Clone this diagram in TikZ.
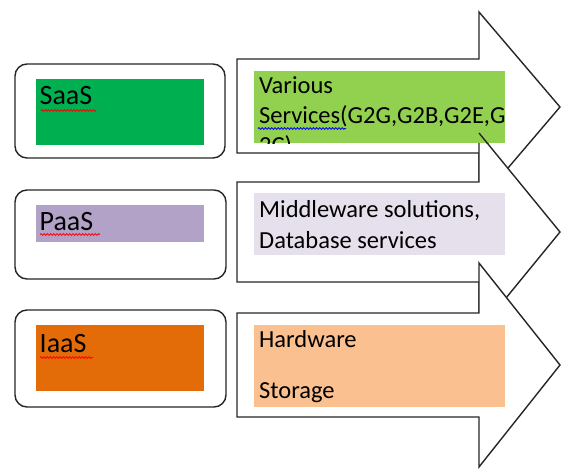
\documentclass[tikz,border=0pt]{standalone}
\usepackage{fontspec}
\setmainfont{Carlito}
\usetikzlibrary{decorations.pathmorphing}

\definecolor{saasfill}{HTML}{00B050}
\definecolor{paasfill}{HTML}{B2A2C7}
\definecolor{iaasfill}{HTML}{E36C09}
\definecolor{svcfill}{HTML}{92D050}
\definecolor{midfill}{HTML}{E5E0EC}
\definecolor{hwfill}{HTML}{FAC090}
\definecolor{edge}{HTML}{262626}

\begin{document}
\begin{tikzpicture}[x=1pt, y=-1pt,
  frame/.style={draw=edge, line width=1.4pt, rounded corners=12pt, fill=white, inner sep=0pt},
  swatch/.style={draw=none, inner sep=0pt, outer sep=0pt},
  bigarrow/.style={draw=edge, line width=1.4pt, fill=white, line join=miter},
  headline/.style={draw=edge, line width=1.4pt},
  label/.style={anchor=base west, inner sep=0pt, font=\fontsize{28}{32}\selectfont},
  body/.style={anchor=base west, inner sep=0pt, font=\fontsize{24.5}{30}\selectfont},
  spell/.style={draw=red, line width=0.8pt, decorate,
    decoration={snake, amplitude=0.9pt, segment length=3.2pt}},
  grammar/.style={spell, draw=blue}]
\useasboundingbox (0,0) rectangle (563,469);

% ---- left column: service model boxes ----
\node[frame, minimum width=210pt, minimum height=94pt] (saasframe) at (120,111) {};
\node[frame, minimum width=211pt, minimum height=89pt] (paasframe) at (120.5,234.5) {};
\node[frame, minimum width=211pt, minimum height=97pt] (iaasframe) at (120.5,358.5) {};

\node[swatch, fill=saasfill, minimum width=168pt, minimum height=66pt] (saasbox) at (120,112) {};
\node[swatch, fill=paasfill, minimum width=168pt, minimum height=37pt] (paasbox) at (120,223.5) {};
\node[swatch, fill=iaasfill, minimum width=168pt, minimum height=66pt] (iaasbox) at (120,358) {};

\node[label] (saas) at (39.5,104) {SaaS};
\node[label] (paas) at (39.5,230) {PaaS};
\node[label] (iaas) at (39.5,352) {IaaS};

\coordinate (saasulA) at (41,110.5);  \coordinate (saasulB) at (96,110.5);
\coordinate (paasulA) at (40,234.5);  \coordinate (paasulB) at (100,234.5);
\coordinate (iaasulA) at (40,357.5);  \coordinate (iaasulB) at (93,357.5);
\draw[spell] (saasulA) -- (saasulB);
\draw[spell] (paasulA) -- (paasulB);
\draw[spell] (iaasulA) -- (iaasulB);

% ---- right column: block arrows, later ones on top ----
\coordinate (a1top) at (479,12);  \coordinate (a1tip) at (560,107); \coordinate (a1bot) at (479,202);
\coordinate (a2top) at (479,133); \coordinate (a2tip) at (560,232); \coordinate (a2bot) at (479,331);
\coordinate (a3top) at (479,263); \coordinate (a3tip) at (560,365); \coordinate (a3bot) at (479,467);

\draw[bigarrow] (237,59) -- (479,59) -- (a1top) -- (a1tip) -- (a1bot) -- (479,153) -- (237,153) -- cycle;
\draw[bigarrow] (237,182) -- (479,182) -- (a2top) -- (a2tip) -- (a2bot) -- (479,282) -- (237,282) -- cycle;
\draw[bigarrow] (237,313) -- (479,313) -- (a3top) -- (a3tip) -- (a3bot) -- (479,417) -- (237,417) -- cycle;

% ---- text boxes inside the arrows ----
\node[swatch, fill=svcfill, minimum width=251pt, minimum height=72pt] (svcbox) at (379.5,107) {};
\node[swatch, fill=midfill, minimum width=251pt, minimum height=62pt] (midbox) at (379.5,224) {};
\node[swatch, fill=hwfill,  minimum width=251pt, minimum height=82pt] (hwbox)  at (379.5,366) {};

\begin{scope}
  \clip (svcbox.north west) rectangle (svcbox.south east);
  \node[body] (svc1) at (259,93)  {Various};
  \node[body] (svc2) at (259,123) {Services(G2G,G2B,G2E,G};
  \node[body] (svc3) at (259,153) {2C)};
  \draw[headline] (a2top) -- (a2tip);
\end{scope}
\coordinate (svculA) at (258,128.5); \coordinate (svculB) at (346,128.5);
\draw[grammar] (svculA) -- (svculB);

\node[body] (mid1) at (259,217) {Middleware solutions,};
\node[body] (mid2) at (259,248) {Database services};

\node[body] (hw1) at (259,347) {Hardware};
\node[body] (hw2) at (259,398) {Storage};
\end{tikzpicture}
\end{document}
